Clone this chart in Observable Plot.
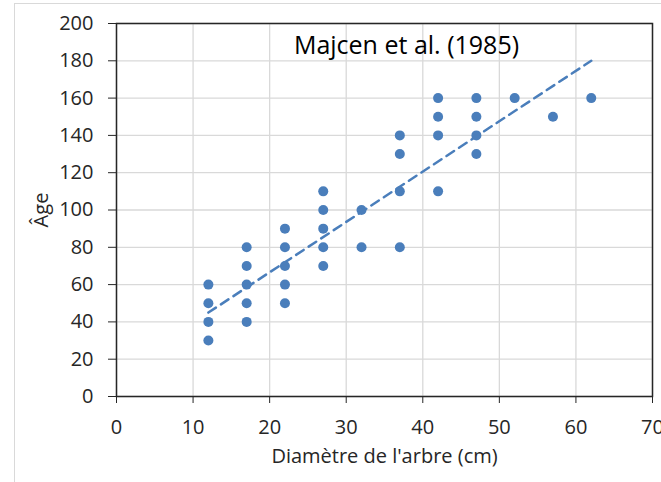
<!DOCTYPE html>
<html>
<head>
<meta charset="utf-8">
<script src="https://cdn.jsdelivr.net/npm/d3@7"></script>
<script src="https://cdn.jsdelivr.net/npm/@observablehq/plot@0.6"></script>
<style>
  html, body { margin: 0; padding: 0; background: #fff; }
  #wrap { position: relative; width: 661px; height: 482px; overflow: hidden; }
  #border { position: absolute; left: 14px; top: 3px; width: 700px; height: 600px;
            border-top: 1px solid #d9d9d9; border-left: 1px solid #d9d9d9; pointer-events: none; }
  #chart { position: absolute; left: 0; top: 0; }
</style>
</head>
<body>
<div id="wrap"><div id="chart"></div><div id="border"></div></div>
<script>
// Data: tree diameter (cm) and age
const diameter = [12,12,12,12, 17,17,17,17,17, 22,22,22,22,22, 27,27,27,27,27, 32,32, 37,37,37,37, 42,42,42,42, 47,47,47,47, 52, 57, 62];
const age      = [60,50,40,30, 80,70,60,50,40, 90,80,70,60,50, 110,100,90,80,70, 100,80, 140,130,110,80, 160,150,140,110, 160,150,140,130, 160, 150, 160];
// Linear trend line endpoints
const trendX = [12, 62];
const trendY = [45, 180];
const xTicks = [0, 10, 20, 30, 40, 50, 60, 70];
const yTicks = [0, 20, 40, 60, 80, 100, 120, 140, 160, 180, 200];
const title = "Majcen et al. (1985)";
const xLabel = "Diamètre de l'arbre (cm)";
const yLabel = "Âge";

const points = diameter.map((d, i) => ({d, a: age[i]}));
const trend = trendX.map((x, i) => ({x, y: trendY[i]}));

const chart = Plot.plot({
  width: 661,
  height: 482,
  marginLeft: 116,
  marginRight: 9,
  marginTop: 23,
  marginBottom: 86,
  style: {fontFamily: "'Open Sans', sans-serif", fontSize: "20px", color: "#262626", background: "transparent"},
  x: {domain: [0, 70]},
  y: {domain: [0, 200]},
  marks: [
    Plot.gridX(xTicks, {stroke: "#d9d9d9", strokeOpacity: 1, strokeWidth: 1.3}),
    Plot.gridY(yTicks, {stroke: "#d9d9d9", strokeOpacity: 1, strokeWidth: 1.3}),
    Plot.frame({stroke: "#262626", strokeWidth: 1.5}),
    Plot.axisX(xTicks, {tickSize: 7, tickPadding: 16, fontSize: 20, stroke: "#262626", label: xLabel, labelAnchor: "center", labelArrow: "none", labelOffset: 66}),
    Plot.axisY(yTicks, {tickSize: 8, tickPadding: 15, fontSize: 20, stroke: "#262626", label: yLabel, labelAnchor: "center", labelArrow: "none", labelOffset: 83}),
    Plot.line(trend, {x: "x", y: "y", stroke: "#4a7ebb", strokeWidth: 2.5, strokeDasharray: "9,6"}),
    Plot.dot(points, {x: "d", y: "a", r: 5, fill: "#4a7ebb", stroke: "none"}),
    Plot.text([title], {frameAnchor: "top", dx: 22, dy: 22, fontSize: 25, fill: "#000", lineAnchor: "middle"})
  ]
});
document.getElementById("chart").appendChild(chart);
</script>
</body>
</html>
